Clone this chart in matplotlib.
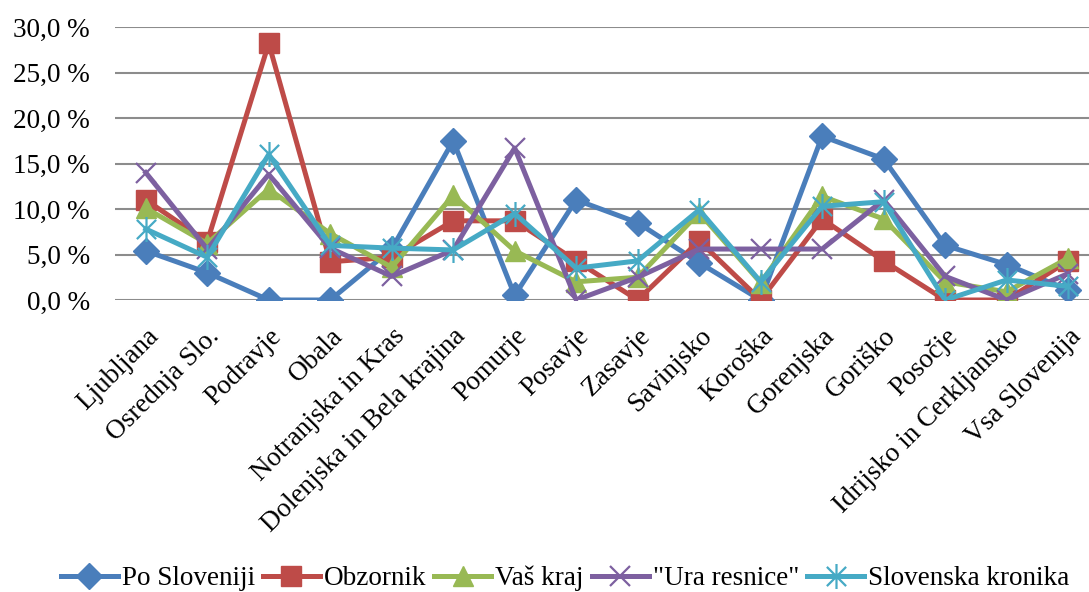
import matplotlib.pyplot as plt
from matplotlib.path import Path
from matplotlib.ticker import FuncFormatter

regions = ["Ljubljana", "Osrednja Slo.", "Podravje", "Obala", "Notranjska in Kras",
           "Dolenjska in Bela krajina", "Pomurje", "Posavje", "Zasavje", "Savinjsko",
           "Koroška", "Gorenjska", "Goriško", "Posočje", "Idrijsko in Cerkljansko",
           "Vsa Slovenija"]

po_sloveniji = [5.4, 3.0, 0.0, 0.0, 5.6, 17.5, 0.5, 11.0, 8.5, 4.1, 0.0, 18.0, 15.5, 6.0, 3.9, 1.1]
obzornik = [11.0, 6.4, 28.2, 4.2, 4.7, 8.7, 8.7, 4.3, 0.0, 6.5, 0.0, 8.9, 4.3, 0.0, 0.0, 4.3]
vas_kraj = [10.1, 6.2, 12.2, 7.3, 3.6, 11.5, 5.4, 2.0, 2.5, 9.6, 1.9, 11.4, 8.9, 2.0, 0.9, 4.6]
ura_resnice = [14.0, 5.6, 13.8, 5.7, 2.6, 5.5, 16.7, 0.0, 2.5, 5.6, 5.6, 5.6, 11.0, 2.6, 0.0, 2.9]
slo_kronika = [7.8, 4.7, 16.0, 6.0, 5.7, 5.5, 9.5, 3.5, 4.3, 9.9, 2.0, 10.3, 10.8, 0.0, 2.2, 1.5]

series_names = ["Po Sloveniji", "Obzornik", "Vaš kraj", "\"Ura resnice\"", "Slovenska kronika"]

# Excel style star marker: x with a vertical stroke
star = Path([(-1, -1), (1, 1), (-1, 1), (1, -1), (0, -1.3), (0, 1.3)],
            [Path.MOVETO, Path.LINETO, Path.MOVETO, Path.LINETO, Path.MOVETO, Path.LINETO])

styles = [
    dict(color="#4A7EBB", marker="D", markersize=13),
    dict(color="#BE4B48", marker="s", markersize=15),
    dict(color="#98B954", marker="^", markersize=15),
    dict(color="#7D60A0", marker="x", markersize=15, markeredgewidth=1.6),
    dict(color="#46AAC5", marker=star, markersize=18, markeredgewidth=1.6),
]

plt.rcParams["font.family"] = ["Liberation Serif", "DejaVu Serif"]

fig = plt.figure(figsize=(10.89, 5.92), dpi=100)
ax = fig.add_axes([115 / 1089, 1 - 300 / 592, 974 / 1089, 273 / 592])

x = list(range(len(regions)))
for vals, name, st in zip([po_sloveniji, obzornik, vas_kraj, ura_resnice, slo_kronika],
                          series_names, styles):
    ax.plot(x, vals, label=name, linewidth=3.6, **st)

ax.set_xlim(-0.5, 15.34)
ax.set_ylim(0, 30)
ax.set_yticks([0, 5, 10, 15, 20, 25, 30])
ax.yaxis.set_major_formatter(FuncFormatter(lambda v, p: f"{v:.1f} %".replace(".", ",")))
ax.grid(axis="y", color="#8c8c8c", linewidth=1.5)
ax.set_axisbelow(True)
for s in ax.spines.values():
    s.set_visible(False)
ax.tick_params(length=0, labelsize=19.5)
ax.tick_params(axis="y", pad=18)
ax.tick_params(axis="x", pad=17)
ax.set_xticks(x)
ax.set_xticklabels(regions, rotation=45, ha="right", rotation_mode="anchor")

fig.legend(loc="lower center", bbox_to_anchor=(0.519, -0.022), ncol=5, frameon=False,
           fontsize=19.5, handlelength=2.1, handletextpad=0.15, columnspacing=0.3,
           borderpad=0.0)

fig.savefig("out.png", dpi=100)
